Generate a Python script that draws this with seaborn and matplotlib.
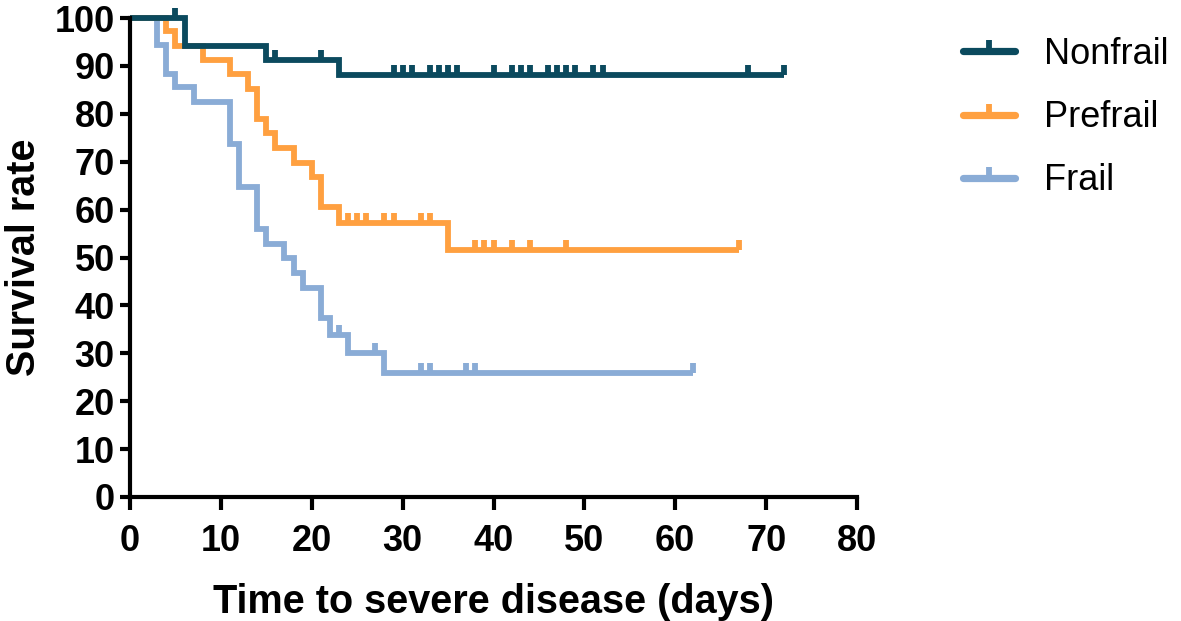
import numpy as np
import pandas as pd
import matplotlib
matplotlib.use("Agg")
import matplotlib.pyplot as plt
from matplotlib.lines import Line2D
import seaborn as sns

# ---- data ----
groups = ["Nonfrail", "Prefrail", "Frail"]
colors = ["#0b4a5e", "#ffa040", "#8aacd6"]

nonfrail_times = [6, 15, 23]
nonfrail_surv = [94.1, 91.2, 88.2]
nonfrail_censor = [5, 16, 21, 29, 30, 31, 33, 34, 35, 36, 40, 42, 43, 44,
                   46, 47, 48, 49, 51, 52, 68, 72]
nonfrail_end = 72

prefrail_times = [4, 5, 8, 11, 13, 14, 15, 16, 18, 20, 21, 23, 35]
prefrail_surv = [97.3, 94.2, 91.2, 88.3, 85.1, 79.0, 75.9, 72.8, 69.8,
                 66.9, 60.5, 57.3, 51.6]
prefrail_censor = [24, 25, 26, 28, 29, 32, 33, 38, 39, 40, 42, 44, 48, 67]
prefrail_end = 67

frail_times = [3, 4, 5, 7, 11, 12, 14, 15, 17, 18, 19, 21, 22, 24, 28]
frail_surv = [94.4, 88.4, 85.5, 82.5, 73.7, 64.8, 55.9, 52.9, 49.8, 46.7,
              43.6, 37.3, 33.8, 30.1, 25.8]
frail_censor = [23, 27, 32, 33, 37, 38, 62]
frail_end = 62

xticks = list(range(0, 81, 10))
yticks = list(range(0, 101, 10))

series = {
    "Nonfrail": (nonfrail_times, nonfrail_surv, nonfrail_censor, nonfrail_end),
    "Prefrail": (prefrail_times, prefrail_surv, prefrail_censor, prefrail_end),
    "Frail": (frail_times, frail_surv, frail_censor, frail_end),
}

# ---- figure ----
sns.set_style("ticks")
plt.rcParams["font.family"] = ["Liberation Sans", "DejaVu Sans"]
plt.rcParams["text.color"] = "black"
plt.rcParams["axes.labelcolor"] = "black"

fig = plt.figure(figsize=(11.81, 6.21), dpi=100)
ax = fig.add_axes([130 / 1181, 1 - 497 / 621, 727 / 1181, 479 / 621])

LW = 4.2
palette = dict(zip(groups, colors))

rows = []
for g in groups:
    t, s, c, end = series[g]
    xs = [0] + list(t) + [end]
    ys = [100] + list(s) + [s[-1]]
    for i, (x, y) in enumerate(zip(xs, ys)):
        rows.append({"group": g, "day": x, "surv": y, "order": i})
df = pd.DataFrame(rows)

for g in ["Frail", "Prefrail", "Nonfrail"]:
    sub = df[df["group"] == g]
    sns.lineplot(data=sub, x="day", y="surv", color=palette[g],
                 drawstyle="steps-post", estimator=None, sort=False,
                 linewidth=LW, ax=ax, legend=False, clip_on=False,
                 solid_joinstyle="miter", solid_capstyle="butt")
    t, s, c, end = series[g]
    xs = np.array([0] + list(t))
    ys = np.array([100] + list(s))
    idx = np.searchsorted(xs, np.array(c), side="right") - 1
    ax.plot(c, ys[idx], linestyle="none", marker=2, markersize=7.5,
            markeredgewidth=LW, color=palette[g], clip_on=False)

ax.set_xlim(0, 80)
ax.set_ylim(0, 100)
ax.set_xticks(xticks)
ax.set_yticks(yticks)
for sp in ["top", "right"]:
    ax.spines[sp].set_visible(False)
for sp in ["left", "bottom"]:
    ax.spines[sp].set_linewidth(3)
    ax.spines[sp].set_color("black")
ax.tick_params(axis="both", direction="out", width=3, labelsize=26,
               colors="black")
ax.tick_params(axis="x", length=9.5, pad=10)
ax.tick_params(axis="y", length=7.5, pad=3.5)
for lab in ax.get_xticklabels() + ax.get_yticklabels():
    lab.set_fontweight("bold")

ax.set_xlabel("Time to severe disease (days)", fontsize=28.5,
              fontweight="bold", labelpad=17)
ax.set_ylabel("Survival rate", fontsize=28.5, fontweight="bold", labelpad=8)

handles = [Line2D([0], [0], color=palette[g], linewidth=LW + 1, marker=2,
                  markersize=8, markeredgewidth=LW) for g in groups]
fig.legend(handles, groups, loc="upper left",
           bbox_to_anchor=(963 / 1181, 1 - 37 / 621), frameon=False,
           fontsize=26, handlelength=1.45, handletextpad=0.8,
           labelspacing=0.78, borderpad=0, borderaxespad=0)

fig.savefig("out.png", dpi=100)
